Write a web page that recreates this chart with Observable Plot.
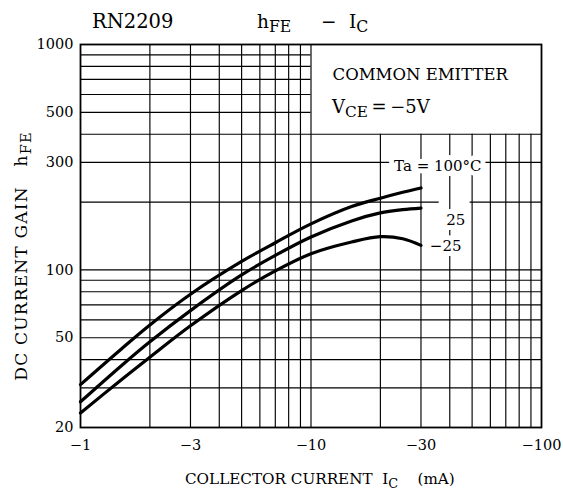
<!DOCTYPE html>
<html><head><meta charset="utf-8">
<script src="https://cdn.jsdelivr.net/npm/d3@7"></script>
<script src="https://cdn.jsdelivr.net/npm/@observablehq/plot@0.6"></script>
<style>body{margin:0;background:#fff} svg{display:block}</style>
</head><body><div id="chart"></div>
<script>
// Collector current magnitude (mA) — shown as negative values on the axis
const currents = [1, 1.5, 2, 3, 5, 7, 10, 15, 20, 25, 30];
// DC current gain hFE per ambient temperature
const hfe100 = [31, 44.5, 57, 78, 109, 132, 160, 191, 208, 221, 231];
const hfe25  = [26, 37.5, 48, 66, 95, 116, 140, 165, 179, 185, 188];
const hfeM25 = [23.2, 32.5, 41, 56.5, 81, 99, 118, 133, 140.5, 137.5, 128.5];
const series = [["100", hfe100], ["25", hfe25], ["-25", hfeM25]];

const xTicks = [1, 3, 10, 30, 100];
const yTicks = [20, 50, 100, 300, 500, 1000];
const xGrid = [2, 3, 4, 5, 6, 7, 8, 9, 10, 20, 30, 40, 50, 60, 70, 80, 90];
const yGrid = [30, 40, 50, 60, 70, 80, 90, 100, 200, 300, 400, 500, 600, 700, 800, 900];

const data = series.flatMap(([ta, vals]) => currents.map((c, i) => ({ic: c, hfe: vals[i], ta})));

// horizontal grid segments (upper lines stop at the annotation box, 200-line broken at the "25" label)
const hSeg = [];
for (const v of yGrid) {
  if (v > 400) hSeg.push({v, a: 1, b: 10});
  else if (v === 200) { hSeg.push({v, a: 1, b: 36}); hSeg.push({v, a: 49, b: 100}); }
  else hSeg.push({v, a: 1, b: 100});
}

const curveLabels = [
  {x: 35.5, y: 288, label: "Ta = 100°C"},
  {x: 42.5, y: 167, label: "25"},
  {x: 38.4, y: 127, label: "−25"}
];

const FONT = "'DejaVu Serif', serif";

const plot = Plot.plot({
  width: 563, height: 496,
  marginLeft: 80, marginRight: 22, marginTop: 44, marginBottom: 69,
  style: {fontFamily: FONT, fontSize: "14px", background: "white", color: "black", overflow: "visible"},
  x: {type: "log", domain: [1, 100]},
  y: {type: "log", domain: [20, 1000]},
  marks: [
    Plot.ruleX(xGrid, {x: d => d, y1: () => 20, y2: d => d > 10 ? 400 : 1000, stroke: "black", strokeWidth: 1.15}),
    Plot.ruleY(hSeg, {y: "v", x1: "a", x2: "b", stroke: "black", strokeWidth: 1.15}),
    Plot.frame({stroke: "black", strokeWidth: 1.8}),
    Plot.line(data, {x: "ic", y: "hfe", z: "ta", curve: "catmull-rom", stroke: "black", strokeWidth: 3.2}),
    Plot.text([{x: 12.4, y: 735, label: "COMMON EMITTER"}], {x: "x", y: "y", text: "label", textAnchor: "start", fontSize: 16.5, fill: "black"}),
    Plot.text(curveLabels, {x: "x", y: "y", text: "label", fill: "black", stroke: "white", strokeWidth: 10, paintOrder: "stroke", fontSize: 15}),
    Plot.axisX({ticks: xTicks, tickFormat: d => "−" + d, tickSize: 0, tickPadding: 12, fontSize: 14.5, label: null}),
    Plot.axisY({ticks: yTicks, tickFormat: d => String(d), tickSize: 0, tickPadding: 7, fontSize: 14.5, label: null})
  ]
});

const svg = d3.select(plot);
const X = plot.scale("x"), Y = plot.scale("y");

// parts: [text, isSubscript, optional explicit x]
function addText(x, y, parts, opts = {}) {
  const size = opts.size || 16;
  const t = svg.append("text")
    .attr("font-family", FONT)
    .attr("font-size", size)
    .attr("fill", "black")
    .attr("text-anchor", opts.anchor || "start")
    .style("white-space", "pre");
  if (opts.spacing) t.attr("letter-spacing", opts.spacing);
  if (opts.transform) t.attr("transform", opts.transform).attr("x", 0).attr("y", 0);
  else t.attr("x", x).attr("y", y);
  let shift = 0;
  for (const [s, sub, px] of parts) {
    const ts = t.append("tspan").text(s);
    const want = sub ? (opts.subShift || 4) : 0;
    if (want !== shift) { ts.attr("dy", want - shift); shift = want; }
    if (px !== undefined) ts.attr("x", px);
    if (sub) ts.attr("font-size", size * 0.85);
  }
  return t;
}

addText(92, 28, [["RN2209", false]], {size: 19.5});
addText(257, 28, [["h", false], ["FE", true], ["−", false, 321], ["I", false, 349], ["C", true]], {size: 18.5});
addText(X.apply(12.4), Y.apply(527) + 6, [["V", false], ["CE", true], ["\u2009=\u2009−5V", false]], {size: 18});
addText(0, 0, [["DC CURRENT GAIN   h", false], ["FE", true]], {size: 17, spacing: 1.2, anchor: "middle", transform: "translate(27,256) rotate(-90)"});
addText(185, 484, [["COLLECTOR CURRENT  I", false], ["C", true], ["    (mA)", false]], {size: 15.2});

document.getElementById("chart").append(plot);
</script>
</body></html>
